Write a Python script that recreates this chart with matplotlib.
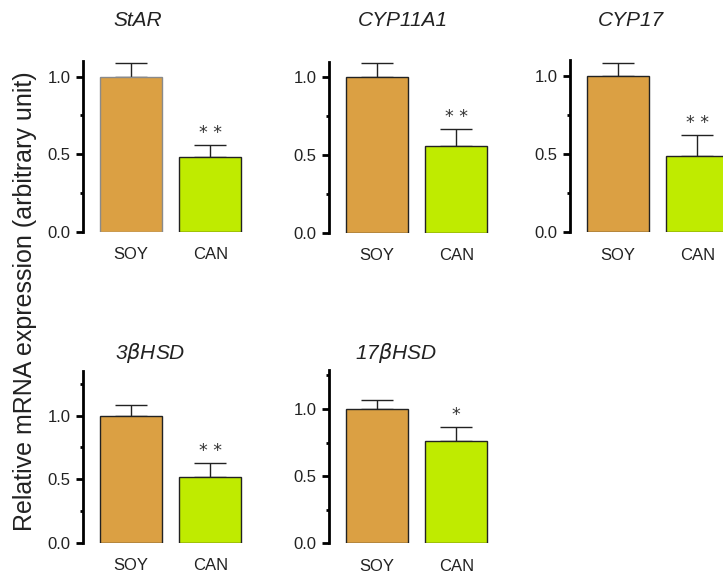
import matplotlib
matplotlib.use("Agg")
import matplotlib.pyplot as plt
from matplotlib.ticker import MultipleLocator

plt.rcParams['font.family'] = ['Liberation Sans', 'DejaVu Sans']

# mean expression (SOY normalised to 1) and upper SEM per gene
genes = ['StAR', 'CYP11A1', 'CYP17', r'3$\beta$HSD', r'17$\beta$HSD']
groups = ['SOY', 'CAN']
soy_mean = [1.0, 1.0, 1.0, 1.0, 1.0]
soy_err = [0.085, 0.09, 0.08, 0.085, 0.07]
can_mean = [0.48, 0.56, 0.49, 0.52, 0.76]
can_err = [0.08, 0.11, 0.13, 0.11, 0.105]
stars = ['**', '**', '**', '**', '*']
ytops = [1.1, 1.1, 1.1, 1.35, 1.29]

soy_color = '#DBA043'
can_color = '#BFEB00'

W, H = 723, 575
fig = plt.figure(figsize=(W / 100, H / 100), dpi=100)

# panel boxes in pixels: (spine x, y of zero line, y of top of spine)
boxes = [(83, 232, 61), (329, 233, 61.5), (570, 232.3, 60),
         (83, 542.7, 371), (329, 543.3, 370)]
# title centres in pixels
title_xy = [(138, 20), (403, 20), (631, 20), (150, 353), (396, 353)]
px_per_unit = 79
xlo, xhi = -0.61, 1.5

for i, (x0, y0, y1) in enumerate(boxes):
    ax = fig.add_axes([x0 / W, (H - y0) / H, (xhi - xlo) * px_per_unit / W, (y0 - y1) / H])
    vals = [soy_mean[i], can_mean[i]]
    errs = [soy_err[i], can_err[i]]
    edge = ['#8a8a8a', '#222222'] if i == 0 else ['#222222', '#222222']
    ax.bar([0, 1], vals, width=0.785, color=[soy_color, can_color],
           edgecolor=edge, linewidth=1.0, zorder=2)
    ax.errorbar([0, 1], vals, yerr=[[0, 0], errs], fmt='none', ecolor='#222222',
                elinewidth=1.0, capsize=11.5, capthick=1.0, zorder=1)
    ax.annotate(' '.join(stars[i]), (1, can_mean[i] + can_err[i]), xytext=(0, 2),
                textcoords='offset points', ha='center', va='bottom',
                fontsize=12.5, color='#333333', family='DejaVu Sans')
    ax.set_xlim(xlo, xhi)
    ax.set_ylim(0, ytops[i])
    ax.set_xticks([0, 1])
    ax.set_xticklabels(groups)
    ax.set_yticks([0, 0.5, 1.0])
    ax.set_yticklabels(['0.0', '0.5', '1.0'])
    ax.yaxis.set_minor_locator(MultipleLocator(0.25))
    ax.tick_params(axis='x', length=0, labelsize=12, pad=11, labelcolor='#222222')
    ax.tick_params(axis='y', which='major', length=5, width=2, labelsize=12,
                   pad=4, labelcolor='#222222')
    ax.tick_params(axis='y', which='minor', length=2.5, width=2)
    for s in ['top', 'right', 'bottom']:
        ax.spines[s].set_visible(False)
    ax.spines['left'].set_linewidth(2)
    tx, ty = title_xy[i]
    fig.text(tx / W, 1 - ty / H, genes[i], fontsize=15, style='italic',
             ha='center', va='center', color='#222222')

fig.text(25 / W, 0.4757, 'Relative mRNA expression (arbitrary unit)', rotation=90,
         ha='center', va='center', fontsize=18, color='#222222')

fig.savefig('out.png', dpi=100)
